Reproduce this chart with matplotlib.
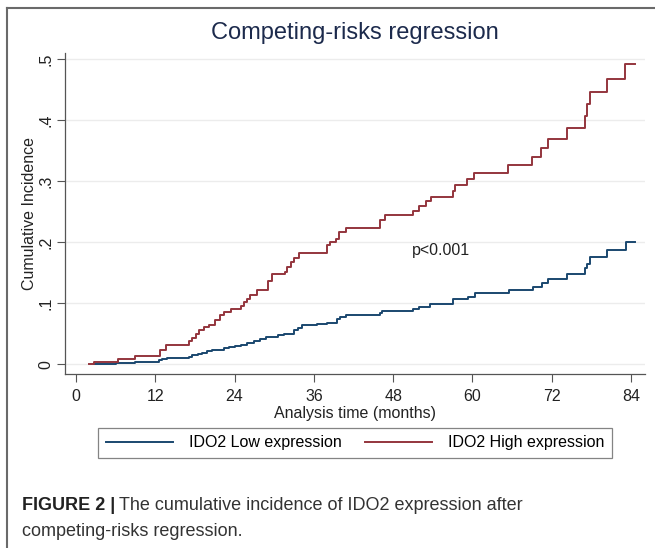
import matplotlib
matplotlib.use("Agg")
import matplotlib.pyplot as plt
from matplotlib.lines import Line2D

plt.rcParams['font.family'] = ['Liberation Sans', 'DejaVu Sans']

# step points (months, cumulative incidence)
low_time = [2.8, 6.0, 8.9, 12.6, 13.0, 13.8, 17.1, 17.6, 18.4, 19.1, 19.9, 20.6, 21.4, 22.4,
            23.2, 24.0, 24.9, 25.9, 26.9, 27.9, 28.7, 29.5, 30.5, 31.5, 33.0, 33.6, 34.2, 36.5,
            38.0, 39.5, 40.0, 40.8, 46.0, 46.3, 51.0, 51.9, 53.6, 57.1, 59.3, 60.4, 65.6, 69.1,
            70.5, 71.4, 74.3, 77.0, 77.3, 77.8, 80.4, 83.2, 84.6]
low_ci = [0.0, 0.002, 0.004, 0.007, 0.009, 0.010, 0.012, 0.015, 0.017, 0.019, 0.022, 0.023,
          0.024, 0.026, 0.028, 0.030, 0.032, 0.035, 0.038, 0.042, 0.044, 0.045, 0.048, 0.050,
          0.056, 0.060, 0.064, 0.066, 0.068, 0.074, 0.078, 0.080, 0.084, 0.088, 0.091, 0.094,
          0.098, 0.107, 0.111, 0.117, 0.122, 0.127, 0.134, 0.140, 0.148, 0.158, 0.165, 0.176,
          0.188, 0.200, 0.200]

high_time = [1.9, 2.8, 6.3, 8.9, 12.7, 13.7, 17.1, 17.5, 18.1, 18.6, 19.4, 20.1, 21.0, 21.8,
             22.4, 23.4, 24.9, 25.4, 25.9, 26.4, 27.4, 29.0, 29.7, 31.7, 32.0, 32.5, 33.0, 33.7,
             38.0, 38.5, 39.4, 39.8, 40.8, 46.0, 46.8, 51.0, 51.9, 52.9, 53.7, 57.0, 57.4, 59.2,
             60.3, 65.4, 69.0, 70.3, 71.5, 74.3, 77.0, 77.3, 77.8, 80.4, 83.1, 84.6]
high_ci = [0.0, 0.004, 0.009, 0.013, 0.023, 0.032, 0.038, 0.043, 0.050, 0.056, 0.061, 0.065,
           0.072, 0.080, 0.085, 0.091, 0.096, 0.102, 0.107, 0.114, 0.121, 0.136, 0.148, 0.152,
           0.159, 0.167, 0.175, 0.182, 0.195, 0.200, 0.205, 0.216, 0.223, 0.237, 0.244, 0.252,
           0.259, 0.267, 0.275, 0.284, 0.294, 0.304, 0.314, 0.326, 0.340, 0.355, 0.369, 0.387,
           0.407, 0.427, 0.446, 0.468, 0.492, 0.492]

x_ticks = [0, 12, 24, 36, 48, 60, 72, 84]
y_ticks = [0, 0.1, 0.2, 0.3, 0.4, 0.5]
y_tick_labels = ["0", ".1", ".2", ".3", ".4", ".5"]
series_labels = ["IDO2 Low expression", "IDO2 High expression"]

navy = "#1a476f"
maroon = "#94353d"
axis_grey = "#555555"

fig = plt.figure(figsize=(6.55, 5.48), dpi=100)
ax = fig.add_axes([0.0992, 0.3175, 0.8855, 0.5855])

ax.step(low_time, low_ci, where="post", color=navy, lw=1.4)
ax.step(high_time, high_ci, where="post", color=maroon, lw=1.4)

ax.set_xlim(-1.66, 86.1)
ax.set_ylim(-0.016, 0.51)
ax.set_xticks(x_ticks)
ax.set_yticks(y_ticks)
ax.set_yticklabels(y_tick_labels, rotation=90, va="center")
ax.tick_params(direction="out", length=6, width=0.8, color=axis_grey, labelsize=11.5,
               labelcolor="#222222")
ax.tick_params(axis="x", pad=5)
ax.tick_params(axis="y", pad=2)
for side in ["top", "right"]:
    ax.spines[side].set_visible(False)
for side in ["left", "bottom"]:
    ax.spines[side].set_color(axis_grey)
    ax.spines[side].set_linewidth(0.9)
ax.yaxis.grid(True, color="#ececec", lw=1.0)
ax.set_axisbelow(True)

ax.set_xlabel("Analysis time (months)", fontsize=11.5, color="#222222", labelpad=1)
ax.set_ylabel("Cumulative Incidence", fontsize=11.5, color="#222222", labelpad=1)
ax.text(50.9, 0.187, "p<0.001", fontsize=11.5, color="#222222", va="center", ha="left")

fig.text(0.542, 1 - 33 / 548, "Competing-risks regression", ha="center", va="center",
         fontsize=17, color="#1c2a4c")

handles = [Line2D([], [], color=navy, lw=1.4), Line2D([], [], color=maroon, lw=1.4)]
leg = fig.legend(handles, series_labels, loc="center", bbox_to_anchor=(0.542, 1 - 443 / 548),
                 ncol=2, fontsize=11.5, frameon=True, fancybox=False, edgecolor="#666666",
                 handlelength=4.2, handletextpad=1.0, columnspacing=1.45, borderpad=0.5)
leg.get_frame().set_linewidth(0.9)

# journal frame around the figure
fig.add_artist(Line2D([7 / 655, 7 / 655], [0, 1 - 8 / 548], color="#6a6a6a", lw=1.5))
fig.add_artist(Line2D([7 / 655, 1], [1 - 8 / 548, 1 - 8 / 548], color="#6a6a6a", lw=1.5))

# caption
bold = fig.text(22 / 655, 1 - 506 / 548, "FIGURE 2 |", fontsize=13, fontweight="bold",
                color="#222222", va="center", ha="left")
fig.canvas.draw()
bb = bold.get_window_extent().transformed(fig.transFigure.inverted())
fig.text(bb.x1 + 4 / 655, 1 - 506 / 548, "The cumulative incidence of IDO2 expression after",
         fontsize=13, color="#333333", va="center", ha="left")
fig.text(22 / 655, 1 - 531 / 548, "competing-risks regression.", fontsize=13, color="#333333",
         va="center", ha="left")

fig.savefig("out.png", dpi=100)
